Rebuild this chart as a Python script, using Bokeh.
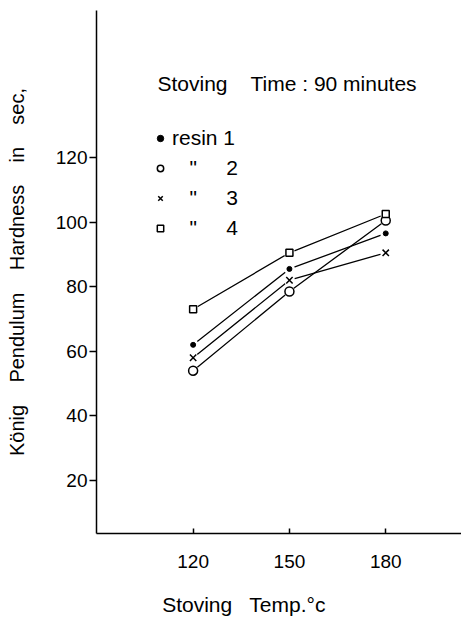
from bokeh.plotting import figure
from bokeh.models import Range1d, FixedTicker, Label, Legend, LegendItem
from bokeh.embed import file_html
from bokeh.resources import INLINE

# ---- data ----
temps = [120, 150, 180]
resin1 = [62, 85.5, 96.5]
resin2 = [54, 78.5, 100.5]
resin3 = [58, 82, 90.5]
resin4 = [73, 90.5, 102.5]
x_ticks = [120, 150, 180]
y_ticks = [20, 40, 60, 80, 100, 120]

FONT = "Liberation Sans"
NB = "\u00a0"

p = figure(width=461, height=622, output_backend="svg", toolbar_location=None,
           x_range=Range1d(89.9, 203.6), y_range=Range1d(3.6, 165.5),
           min_border_left=96, min_border_right=0, min_border_top=10, min_border_bottom=89)
p.outline_line_color = None
p.xgrid.visible = False
p.ygrid.visible = False
p.background_fill_color = "white"
p.border_fill_color = "white"

# axes
for ax in (p.xaxis[0], p.yaxis[0]):
    ax.axis_line_color = "black"
    ax.axis_line_width = 1.5
    ax.major_tick_line_color = "black"
    ax.major_tick_line_width = 1.5
    ax.minor_tick_line_color = None
    ax.major_label_text_font = FONT
    ax.major_label_text_font_size = "19px"
    ax.major_label_text_color = "black"
    ax.axis_label_text_font = FONT
    ax.axis_label_text_font_style = "normal"
    ax.axis_label_text_color = "black"

p.xaxis.ticker = FixedTicker(ticks=x_ticks)
p.xaxis.major_tick_in = 5
p.xaxis.major_tick_out = 0
p.xaxis.major_label_standoff = 21
# trailing no-break spaces shift the centred label to the left, as in the original
p.xaxis.axis_label = "Stoving" + NB * 2 + " Temp.°c" + NB * 12
p.xaxis.axis_label_text_font_size = "21px"
p.xaxis.axis_label_standoff = 22

p.yaxis.ticker = FixedTicker(ticks=y_ticks)
p.yaxis.major_tick_in = 0
p.yaxis.major_tick_out = 7
p.yaxis.major_label_standoff = 2
gap = " " + NB * 3
p.yaxis.axis_label = gap.join(["König", "Pendulum", "Hardness", "in", "sec,"])
p.yaxis.axis_label_text_font_size = "20px"
p.yaxis.axis_label_standoff = 25

series = [
    (resin1, dict(marker="circle", size=5, fill_color="black", line_color="black", line_width=1)),
    (resin2, dict(marker="circle", size=9, fill_color="white", line_color="black", line_width=1.5)),
    (resin3, dict(marker="x", size=9, line_color="black", line_width=1.5)),
    (resin4, dict(marker="square", size=7, fill_color="white", line_color="black", line_width=1.5)),
]

# lines
for vals, _ in series:
    p.line(temps, vals, line_color="black", line_width=1.3)
# white halos to leave small gaps between lines and markers
for vals, _ in series:
    p.scatter(temps, vals, marker="circle", size=11, fill_color="white", line_color=None)
marker_renderers = []
for vals, style in series:
    r = p.scatter(temps, vals, **style)
    marker_renderers.append(r)

ditto = NB * 3 + '"' + NB * 5
labels = ["resin 1", ditto + "2", ditto + "3", ditto + "4"]
legend = Legend(items=[LegendItem(label=lab, renderers=[r]) for lab, r in zip(labels, marker_renderers)],
                location=(56, 293), padding=0, margin=0, spacing=6,
                glyph_width=16, glyph_height=24, label_standoff=4,
                label_text_font=FONT, label_text_font_size="21px", label_text_color="black",
                border_line_color=None, background_fill_alpha=0)
p.add_layout(legend, "center")

title = Label(x=108.9, y=142.9, text="Stoving" + NB * 3 + " Time" + NB + ": 90 minutes",
              text_font=FONT, text_font_size="21px", text_color="black",
              text_align="left", text_baseline="alphabetic")
p.add_layout(title)

open("out.html", "w").write(file_html(p, INLINE))
